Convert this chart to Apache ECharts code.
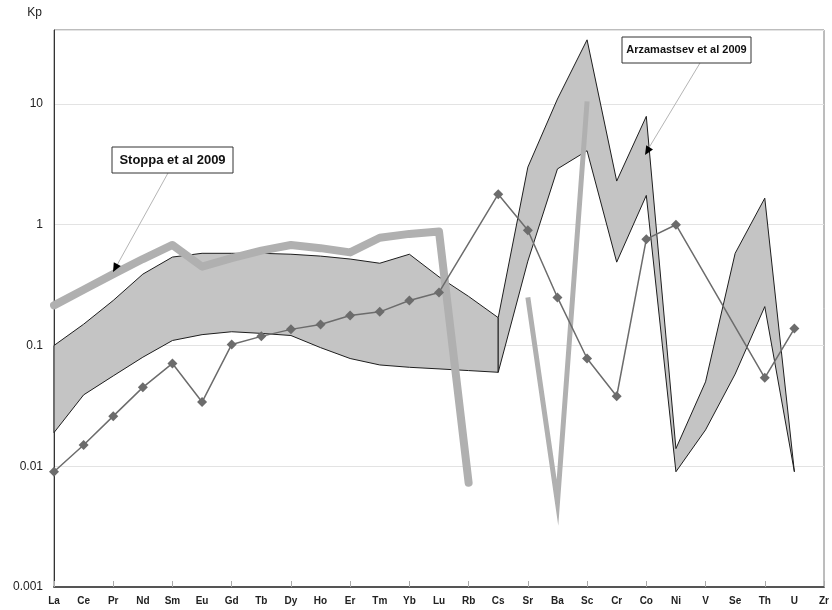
<!DOCTYPE html>
<html>
<head>
<meta charset="utf-8">
<script src="https://cdn.jsdelivr.net/npm/echarts@6/dist/echarts.min.js"></script>
<style>
  html, body { margin: 0; padding: 0; background: #fff; }
  #chart { width: 832px; height: 610px; }
</style>
</head>
<body>
<div id="chart"></div>
<script>
// element order on the x axis
const categories = ['La','Ce','Pr','Nd','Sm','Eu','Gd','Tb','Dy','Ho','Er','Tm','Yb','Lu','Rb','Cs','Sr','Ba','Sc','Cr','Co','Ni','V','Se','Th','U','Zr'];

// diamond series (Kp)
const kpValues = [0.009,0.015,0.026,0.045,0.071,0.034,0.102,0.119,0.136,0.149,0.177,0.19,0.236,0.275,null,1.79,0.9,0.25,0.078,0.038,0.76,1.0,null,null,0.054,0.138,null];

// Stoppa et al 2009 (thick grey lines)
const stoppaA = [0.215,0.29,0.39,0.52,0.68,0.45,0.53,0.61,0.68,0.64,0.59,0.78,0.84,0.88,0.0073,null,null,null,null,null,null,null,null,null,null,null,null];
const stoppaB = [null,null,null,null,null,null,null,null,null,null,null,null,null,null,null,null,0.25,0.005,10.5,null,null,null,null,null,null,null,null];

// Arzamastsev et al 2009 (shaded field)
const bandUpper = [0.1,0.15,0.236,0.39,0.54,0.58,0.58,0.58,0.57,0.55,0.52,0.48,0.57,0.37,0.255,0.17,3.0,11,34,2.3,7.9,0.014,0.05,0.58,1.66,0.009,null];
const bandLower = [0.019,0.039,0.056,0.08,0.11,0.123,0.13,0.126,0.121,0.096,0.078,0.069,0.066,0.064,0.062,0.06,0.5,2.9,4.1,0.49,1.75,0.009,0.02,0.058,0.21,0.009,null];
const bandSegments = [[0,15],[15,25]];

const yTicks = [0.001,0.01,0.1,1,10];

const font = 'Liberation Sans, Arial, sans-serif';

let myChart = echarts.init(document.getElementById('chart'));

let option = {
    backgroundColor: '#fff',
    animation: false,
    grid: {
        left: 54,
        right: 6,
        top: 30,
        bottom: 23,
        show: true,
        borderColor: '#7a7a7a',
        borderWidth: 1
    },
    xAxis: {
        type: 'category',
        data: categories,
        boundaryGap: false,
        axisLine: { lineStyle: { color: '#555', width: 2 } },
        axisTick: { show: true, inside: true, length: 6, interval: 1, lineStyle: { color: '#aaa' } },
        axisLabel: { interval: 0, color: '#222', fontSize: 10, fontWeight: 'bold', fontFamily: font, margin: 9 },
        splitLine: { show: false }
    },
    yAxis: {
        type: 'log',
        logBase: 10,
        min: 0.001,
        max: 41,
        name: 'Kp',
        nameLocation: 'end',
        nameGap: 11,
        nameTextStyle: { color: '#222', fontSize: 12, fontFamily: font, align: 'right', padding: [0, 12, 0, 0] },
        axisLine: { show: true, lineStyle: { color: '#333', width: 1 } },
        axisTick: { show: false },
        axisLabel: {
            color: '#222',
            fontSize: 12,
            fontFamily: font,
            margin: 11,
            formatter: function (v) {
                for (let i = 0; i < yTicks.length; i++) {
                    if (Math.abs(v - yTicks[i]) / yTicks[i] < 1e-6) return String(yTicks[i]);
                }
                return '';
            }
        },
        splitLine: { show: true, lineStyle: { color: '#e3e3e3', width: 1 } }
    },
    series: [
        {
            name: 'Arzamastsev et al 2009',
            type: 'custom',
            z: 1,
            data: bandSegments.map(function (s) { return [s[0], 1]; }),
            renderItem: function (params, api) {
                let seg = bandSegments[params.dataIndex];
                let pts = [];
                for (let i = seg[0]; i <= seg[1]; i++) pts.push(api.coord([i, bandUpper[i]]));
                for (let i = seg[1]; i >= seg[0]; i--) pts.push(api.coord([i, bandLower[i]]));
                return {
                    type: 'polygon',
                    shape: { points: pts },
                    style: { fill: '#c4c4c4', stroke: '#1e1e1e', lineWidth: 1 }
                };
            }
        },
        {
            name: 'Stoppa et al 2009',
            type: 'line',
            z: 3,
            data: stoppaA,
            connectNulls: false,
            symbol: 'none',
            lineStyle: { color: '#b0b0b0', width: 8, cap: 'round', join: 'round' }
        },
        {
            name: 'Stoppa 2',
            type: 'line',
            z: 3,
            data: stoppaB,
            connectNulls: false,
            symbol: 'none',
            lineStyle: { color: '#b0b0b0', width: 5, cap: 'butt', join: 'miter', miterLimit: 10 }
        },
        {
            name: 'Kp',
            type: 'line',
            z: 4,
            data: kpValues,
            connectNulls: true,
            symbol: 'diamond',
            symbolSize: 10,
            itemStyle: { color: '#6c6c6c' },
            lineStyle: { color: '#6c6c6c', width: 1.5 }
        }
    ],
    graphic: [
        // Stoppa label with leader
        { type: 'line', z: 100, shape: { x1: 168, y1: 173, x2: 116, y2: 267 }, style: { stroke: '#b5b5b5', lineWidth: 1 } },
        { type: 'polygon', z: 101, shape: { points: [[113, 272], [120.8, 266], [113.8, 262.2]] }, style: { fill: '#000' } },
        { type: 'rect', z: 100, shape: { x: 112, y: 147, width: 121, height: 26 }, style: { fill: '#fff', stroke: '#333', lineWidth: 1 } },
        { type: 'text', z: 101, x: 172.5, y: 160, style: { text: 'Stoppa et al 2009', fill: '#111', font: 'bold 13px ' + font, align: 'center', verticalAlign: 'middle' } },
        // Arzamastsev label with leader
        { type: 'line', z: 100, shape: { x1: 700, y1: 63, x2: 647, y2: 151 }, style: { stroke: '#b5b5b5', lineWidth: 1 } },
        { type: 'polygon', z: 101, shape: { points: [[645, 155], [653, 149.4], [646.2, 145.2]] }, style: { fill: '#000' } },
        { type: 'rect', z: 100, shape: { x: 622, y: 37, width: 129, height: 26 }, style: { fill: '#fff', stroke: '#333', lineWidth: 1 } },
        { type: 'text', z: 101, x: 686.5, y: 50, style: { text: 'Arzamastsev et al 2009', fill: '#111', font: 'bold 11px ' + font, align: 'center', verticalAlign: 'middle' } }
    ]
};

myChart.setOption(option);
</script>
</body>
</html>
